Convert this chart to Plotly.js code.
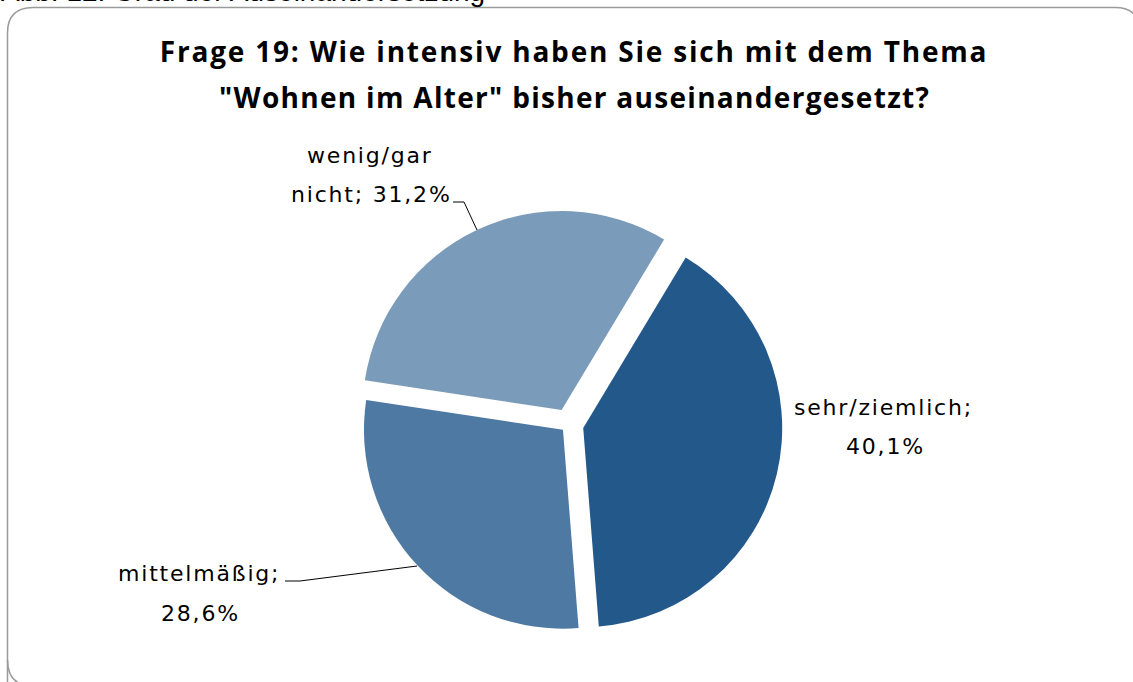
<!DOCTYPE html>
<html>
<head>
<meta charset="utf-8">
<script src="https://cdn.plot.ly/plotly-3.0.1.min.js"></script>
<style>html,body{margin:0;padding:0;background:#fff;}#chart{width:1133px;height:682px;}</style>
</head>
<body>
<div id="chart"></div>
<script>
// ---- data ----
const categories = ['sehr/ziemlich', 'mittelmäßig', 'wenig/gar nicht'];
const shares = [40.1, 28.6, 31.2];
const sliceColors = ['#23588B', '#4E79A3', '#7A9BB9'];
const slicePull = [0.076, 0.038, 0.081];
const titleLines = ['Frage 19: Wie intensiv haben Sie sich mit dem Thema', '"Wohnen im Alter" bisher auseinandergesetzt?'];
const caption = 'Abb. 12: Grad der Auseinandersetzung';

// ---- layout helpers (pixel -> paper, margins are 0) ----
const W = 1133, H = 682;
const px = p => p / W;
const py = p => 1 - p / H;
const fmt = v => v.toFixed(1).replace('.', ',') + '%';

// label centres (pixels) for line 1 / line 2 of each slice label
const labelPos = [
  [[884, 407], [885, 446]],
  [[199, 573], [200, 613]],
  [[370, 155], [371, 195]]
];
const leaderLines = [
  null,
  [[285, 581], [300, 581], [417, 566]],
  [[453, 202], [464, 202], [477, 230]]
];

const labelFont = {family: 'DejaVu Sans', size: 22, color: '#000'};
const spaced = (t, s) => '<span style="letter-spacing:' + s + 'px">' + t + '</span>';
const titleFont = {family: 'Open Sans', size: 28, weight: 'bold', color: '#000'};

const annotations = [];
const shapes = [];
categories.forEach((c, i) => {
  const full = c + '; ' + fmt(shares[i]);
  const k = full.indexOf(' ');
  const lines = [full.slice(0, k), full.slice(k + 1)];
  lines.forEach((t, j) => {
    annotations.push({
      text: spaced(t, 1.8), showarrow: false, xref: 'paper', yref: 'paper',
      x: px(labelPos[i][j][0]), y: py(labelPos[i][j][1]),
      xanchor: 'center', yanchor: 'middle', font: labelFont
    });
  });
  if (leaderLines[i]) {
    const pts = leaderLines[i];
    shapes.push({
      type: 'path', xref: 'paper', yref: 'paper',
      path: pts.map((p, n) => (n ? 'L' : 'M') + px(p[0]) + ',' + py(p[1])).join(' '),
      line: {color: '#000', width: 1}
    });
  }
});

// second title line
annotations.push({
  text: spaced(titleLines[1], 1.3), showarrow: false, xref: 'paper', yref: 'paper',
  x: px(574.5), y: py(97), xanchor: 'center', yanchor: 'middle',
  font: titleFont
});
// cropped caption at very top
annotations.push({
  text: caption, showarrow: false, xref: 'paper', yref: 'paper',
  x: px(-1), y: py(5), xanchor: 'left', yanchor: 'middle', yshift: 13,
  font: {family: 'Liberation Sans', size: 28, color: '#000'}
});

// rounded frame
const framePts = 'M' + px(7.5) + ',' + py(700) +
  ' L' + px(7.5) + ',' + py(33) +
  ' Q' + px(7.5) + ',' + py(7.5) + ' ' + px(33) + ',' + py(7.5) +
  ' L' + px(1115) + ',' + py(7.5) +
  ' Q' + px(1140) + ',' + py(7.5) + ' ' + px(1140) + ',' + py(33) +
  ' L' + px(1140) + ',' + py(700);
shapes.push({type: 'path', xref: 'paper', yref: 'paper', path: framePts,
  line: {color: '#9a9a9a', width: 1.5}, layer: 'below'});
shapes.push({type: 'path', xref: 'paper', yref: 'paper',
  path: 'M' + px(7.5) + ',' + py(660) + ' Q' + px(7.5) + ',' + py(686) + ' ' + px(33) + ',' + py(686),
  line: {color: '#9a9a9a', width: 1.5}, layer: 'below'});

const trace = {
  type: 'pie',
  labels: categories,
  values: shares,
  sort: false,
  direction: 'clockwise',
  rotation: 31,
  pull: slicePull,
  marker: {colors: sliceColors, line: {width: 0}},
  textinfo: 'none',
  hoverinfo: 'label+percent',
  showlegend: false,
  domain: {x: [px(568.5 - 215.1), px(568.5 + 215.1)], y: [py(424.6 + 215.1), py(424.6 - 215.1)]}
};

const layout = {
  width: W, height: H,
  margin: {l: 0, r: 0, t: 0, b: 0},
  paper_bgcolor: '#fff',
  showlegend: false,
  title: {
    text: spaced(titleLines[0], 1.8), x: px(574), xanchor: 'center', y: py(52), yanchor: 'middle',
    xref: 'paper', yref: 'container',
    font: titleFont
  },
  annotations: annotations,
  shapes: shapes
};

Plotly.newPlot('chart', [trace], layout, {displayModeBar: false, staticPlot: true});
</script>
</body>
</html>
